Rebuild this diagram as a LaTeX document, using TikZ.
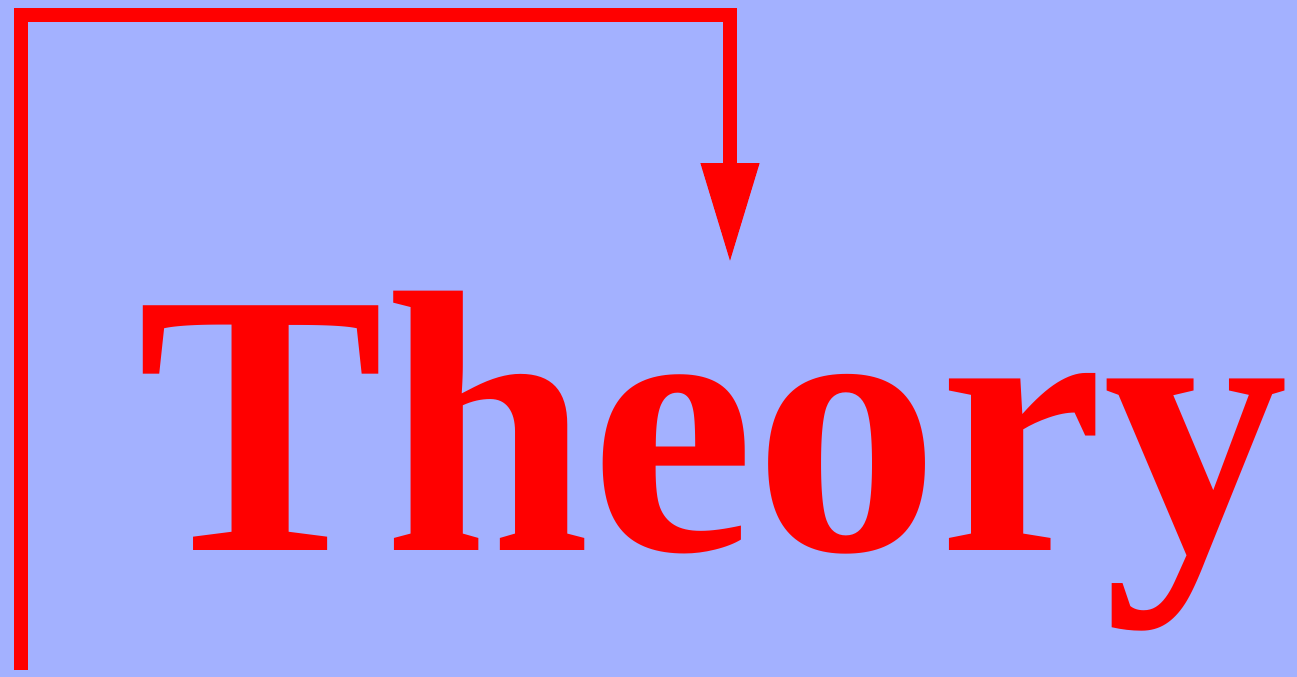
\documentclass[tikz,border=0pt]{standalone}
\usepackage{fontspec}
\setmainfont{Liberation Serif}
\usetikzlibrary{arrows.meta}
\definecolor{bgblue}{RGB}{163,177,255}
\definecolor{linered}{RGB}{255,0,0}
\tikzset{
  connector/.style={draw=linered, line width=0.7cm, line join=miter,
    -{Triangle[length=5.0cm, width=2.75cm]}},
  bigtext/.style={text=linered, inner sep=0pt, xscale=10.05, yscale=10.15, font=\bfseries\fontsize{52.4}{60}\selectfont}
}
\begin{document}
\begin{tikzpicture}[x=0.05cm, y=-0.05cm]
  \fill[bgblue] (0,0) rectangle (1297,677);
  \useasboundingbox (0,0) rectangle (1297,677);
  \coordinate (start) at (21,670);
  \coordinate (corner) at (730,14.5);
  \coordinate (tip) at (730,263);
  \node[bigtext, anchor=base west] (theory) at (136,550) {Theory};
  \draw[connector] (start) |- (corner) -- (tip);
\end{tikzpicture}
\end{document}
